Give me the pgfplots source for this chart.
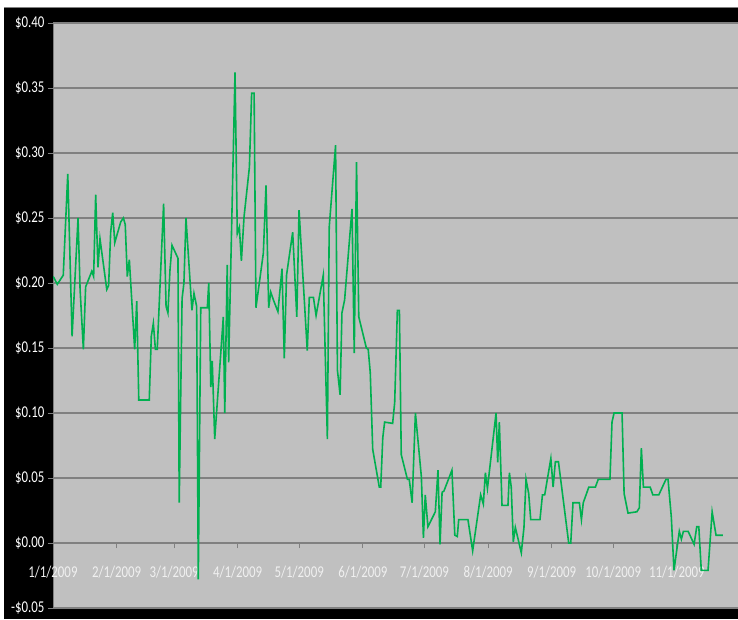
\documentclass[border=0pt]{standalone}
\usepackage{pgfplots}
\pgfplotsset{compat=1.18}
\usepackage{fontspec}
\setmainfont{Carlito}
\newfontfamily\lbl[FakeStretch=0.78]{Carlito}
\definecolor{plotbg}{RGB}{192,192,192}
\definecolor{gridc}{RGB}{128,128,128}
\definecolor{lineg}{RGB}{0,176,80}
\definecolor{xlab}{RGB}{240,240,240}
\begin{document}
\begin{tikzpicture}[x=1pt,y=1pt]
\useasboundingbox (0,0) rectangle (738,619);
\fill[white] (0,0) rectangle (738,619);
\fill[black] (4,0) rectangle (738,612);
\draw[gridc, line width=0.8pt] (4,612) -- (738,612);
\begin{axis}[
  at={(53pt,11pt)}, anchor=south west,
  width=685pt, height=585pt, scale only axis,
  xmin=0, xmax=333.8, ymin=-0.05, ymax=0.40,
  axis background/.style={fill=plotbg},
  axis x line=middle, axis y line=left,
  axis line style={-, draw=gridc, line width=1pt},
  hide obscured x ticks=false, hide obscured y ticks=false,
  xtick={0,31,59,90,120,151,181,212,243,273,304},
  xticklabels={1/1/2009,2/1/2009,3/1/2009,4/1/2009,5/1/2009,6/1/2009,7/1/2009,8/1/2009,9/1/2009,10/1/2009,11/1/2009},
  ytick={-0.05,0,0.05,0.10,0.15,0.20,0.25,0.30,0.35,0.40},
  yticklabels={-\$0.05,\$0.00,\$0.05,\$0.10,\$0.15,\$0.20,\$0.25,\$0.30,\$0.35,\$0.40},
  ymajorgrids, grid style={draw=gridc, line width=1.2pt},
  tick align=outside, major tick length=5pt,
  tick style={draw=gridc, line width=1pt},
  xticklabel style={font=\lbl\fontsize{16.5}{16.5}\selectfont, text=xlab, anchor=center, yshift=-24pt},
  yticklabel style={font=\lbl\fontsize{16.5}{16.5}\selectfont, text=white},
]
\addplot[lineg, line width=1.6pt] table[row sep=\\] {
x y\\
0.1 0.205\\ 2.1 0.199\\ 5.0 0.206\\ 7.2 0.284\\ 9.3 0.159\\ 12.2 0.250\\ 13.2 0.195\\ 14.8 0.149\\ 15.9 0.197\\ 18.9 0.209\\
19.8 0.205\\ 20.8 0.268\\ 21.9 0.212\\ 22.9 0.234\\ 26.2 0.195\\ 27.1 0.198\\ 28.1 0.239\\ 29.1 0.254\\ 30.1 0.231\\ 33.0 0.247\\
34.3 0.250\\ 35.2 0.245\\ 36.2 0.205\\ 37.2 0.218\\ 39.8 0.149\\ 40.8 0.186\\ 41.8 0.110\\ 46.9 0.110\\ 47.9 0.159\\ 48.9 0.169\\
49.9 0.149\\ 50.8 0.149\\ 53.9 0.261\\ 55.1 0.182\\ 56.0 0.177\\ 57.0 0.210\\ 58.0 0.229\\ 60.9 0.219\\ 61.5 0.031\\ 62.9 0.188\\
63.8 0.200\\ 64.8 0.250\\ 67.7 0.179\\ 68.7 0.192\\ 70.0 0.182\\ 70.8 -0.028\\ 72.0 0.181\\ 75.2 0.181\\ 75.9 0.200\\ 76.9 0.120\\
77.6 0.140\\ 78.8 0.080\\ 83.0 0.174\\ 83.7 0.100\\ 84.9 0.214\\ 85.6 0.139\\ 88.7 0.362\\ 89.8 0.238\\ 90.8 0.243\\ 91.8 0.217\\
93.1 0.251\\ 95.7 0.289\\ 96.8 0.346\\ 98.0 0.346\\ 98.9 0.181\\ 102.5 0.223\\ 103.8 0.275\\ 105.1 0.181\\ 106.1 0.193\\ 107.4 0.187\\
109.6 0.178\\ 111.6 0.211\\ 112.7 0.142\\ 113.8 0.206\\ 116.8 0.239\\ 118.8 0.174\\ 119.9 0.256\\ 123.9 0.148\\ 124.9 0.189\\ 126.9 0.189\\
128.2 0.175\\ 131.7 0.206\\ 133.7 0.080\\ 134.6 0.243\\ 137.7 0.306\\ 138.6 0.133\\ 139.9 0.114\\ 140.8 0.177\\ 142.1 0.187\\ 145.7 0.257\\
146.8 0.146\\ 147.9 0.293\\ 149.0 0.174\\ 152.7 0.150\\ 153.6 0.149\\ 154.6 0.131\\ 155.8 0.072\\ 159.0 0.043\\ 159.7 0.043\\ 160.7 0.081\\
161.6 0.093\\ 165.5 0.092\\ 166.5 0.108\\ 167.8 0.179\\ 168.8 0.179\\ 169.7 0.068\\ 172.7 0.049\\ 173.6 0.049\\ 175.0 0.031\\ 176.6 0.100\\
179.5 0.051\\ 180.5 0.004\\ 181.4 0.037\\ 182.7 0.0125\\ 186.3 0.024\\ 187.6 0.056\\ 188.6 -0.001\\ 189.6 0.039\\ 190.5 0.040\\ 194.4 0.056\\
195.8 0.006\\ 197.0 0.005\\ 197.7 0.018\\ 202.2 0.018\\ 204.5 -0.006\\ 208.4 0.037\\ 209.7 0.030\\ 210.7 0.054\\ 211.7 0.042\\ 215.9 0.100\\
216.7 0.062\\ 217.5 0.093\\ 218.8 0.029\\ 221.7 0.029\\ 222.4 0.054\\ 223.3 0.043\\ 224.3 0.001\\ 225.3 0.012\\ 228.2 -0.0075\\ 229.5 0.012\\
230.5 0.049\\ 231.8 0.038\\ 232.8 0.018\\ 237.3 0.018\\ 238.5 0.037\\ 239.6 0.037\\ 242.6 0.065\\ 243.7 0.043\\ 244.8 0.0625\\ 246.3 0.0625\\
251.3 0.000\\ 252.3 0.000\\ 253.4 0.031\\ 256.5 0.031\\ 257.5 0.018\\ 258.4 0.031\\ 261.1 0.043\\ 264.3 0.043\\ 265.7 0.049\\ 271.4 0.049\\
272.4 0.093\\ 273.4 0.100\\ 277.3 0.100\\ 278.3 0.038\\ 280.2 0.023\\ 284.5 0.024\\ 285.7 0.027\\ 286.7 0.073\\ 287.7 0.043\\ 291.0 0.043\\
292.3 0.037\\ 295.2 0.037\\ 298.7 0.049\\ 299.7 0.049\\ 301.3 0.020\\ 302.6 -0.021\\ 305.2 0.009\\ 306.2 0.003\\ 307.2 0.009\\ 309.5 0.009\\
312.4 -0.001\\ 313.7 0.0125\\ 314.7 0.0125\\ 315.9 -0.021\\ 319.2 -0.021\\ 321.2 0.024\\ 323.1 0.006\\ 326.4 0.006\\
};
\end{axis}
\end{tikzpicture}
\end{document}
